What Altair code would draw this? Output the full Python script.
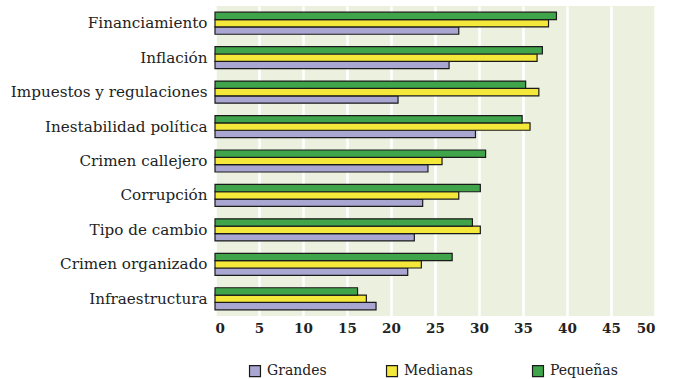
import altair as alt
import pandas as pd

# Obstacles reported by firm size (% of firms)
categorias = [
    "Financiamiento",
    "Inflación",
    "Impuestos y regulaciones",
    "Inestabilidad política",
    "Crimen callejero",
    "Corrupción",
    "Tipo de cambio",
    "Crimen organizado",
    "Infraestructura",
]
grandes = [27.7, 26.6, 20.8, 29.6, 24.2, 23.6, 22.65, 21.9, 18.3]
medianas = [37.9, 36.6, 36.8, 35.8, 25.8, 27.7, 30.15, 23.45, 17.2]
pequenas = [38.8, 37.2, 35.3, 34.9, 30.75, 30.15, 29.25, 26.95, 16.2]

series = ["Grandes", "Medianas", "Pequeñas"]
colores = ["#A9A7D1", "#F4E93A", "#40A54A"]

rows = []
for nombre, valores in zip(series, [grandes, medianas, pequenas]):
    for cat, v in zip(categorias, valores):
        rows.append({"categoria": cat, "tamano": nombre, "valor": v})
df = pd.DataFrame(rows)

FONT = "DejaVu Serif"

chart = (
    alt.Chart(df)
    .mark_bar(stroke="#1a1a1a", strokeWidth=1.2)
    .encode(
        y=alt.Y(
            "categoria:N",
            sort=categorias,
            title=None,
            scale=alt.Scale(paddingInner=0.36, paddingOuter=0.18),
            axis=alt.Axis(
                ticks=False,
                domain=False,
                labelPadding=8,
                labelFont=FONT,
                labelFontSize=15.2,
                labelColor="#222222",
                labelLimit=300,
            ),
        ),
        yOffset=alt.YOffset(
            "tamano:N",
            sort=["Pequeñas", "Medianas", "Grandes"],
            scale=alt.Scale(paddingInner=0, paddingOuter=0),
        ),
        x=alt.X(
            "valor:Q",
            title=None,
            scale=alt.Scale(domain=[0, 50], nice=False),
            axis=alt.Axis(
                values=list(range(0, 55, 5)),
                ticks=False,
                domain=False,
                grid=True,
                gridColor="white",
                gridWidth=2.5,
                labelPadding=5,
                labelFont=FONT,
                labelFontSize=13.5,
                labelFontWeight="bold",
                labelColor="#222222",
            ),
        ),
        color=alt.Color(
            "tamano:N",
            scale=alt.Scale(domain=series, range=colores),
            legend=alt.Legend(
                title=None,
                orient="none",
                direction="horizontal",
                legendX=33,
                legendY=358,
                symbolType="square",
                symbolSize=120,
                symbolStrokeColor="#1a1a1a",
                symbolStrokeWidth=1.2,
                symbolOpacity=1,
                labelFont=FONT,
                labelFontSize=14,
                labelColor="#222222",
                labelOffset=5,
                columnPadding=57,
            ),
        ),
    )
    .properties(
        width=440,
        height=310,
        background="white",
        autosize=alt.AutoSizeParams(type="none"),
        padding={"left": 215, "top": 6, "right": 19, "bottom": 63},
    )
    .configure_view(fill="#EBF1DE", strokeWidth=0)
)

chart.save("out.html", embed_options={"renderer": "svg", "actions": False})
